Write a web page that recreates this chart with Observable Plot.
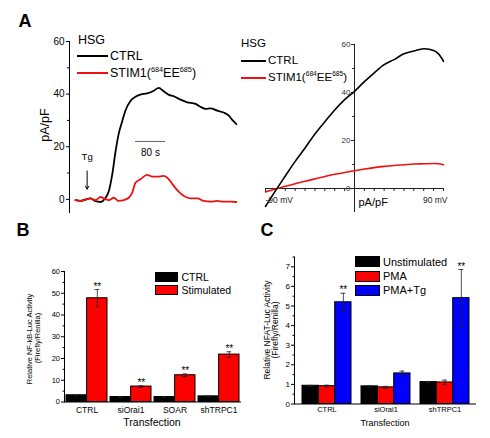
<!DOCTYPE html>
<html><head><meta charset="utf-8">
<script src="https://cdn.jsdelivr.net/npm/d3@7"></script>
<script src="https://cdn.jsdelivr.net/npm/@observablehq/plot@0.6"></script>
<style>
body{margin:0;background:#fff;}
#fig{position:relative;width:490px;height:438px;background:#fff;font-family:"Liberation Sans",Arial,sans-serif;color:#000;overflow:hidden;}
#fig svg{position:absolute;overflow:visible;}
.lbl{position:absolute;white-space:nowrap;line-height:1;}
.sup{font-size:0.58em;position:relative;top:-0.7em;}
.sw{position:absolute;}
</style></head><body><div id="fig"></div><script>
// ---------- Panel A left: current vs time ----------
const ctrlTime = [0,13,27,40,53,67,80,89,98,107,115,125,133,147,160,173,191,209,222,235,249,262,280,298,320,333,347,360,378,395,409,418,429];
const ctrlCurrent = [-0.3,-0.6,0,0.4,-0.7,-1,0.6,3.2,9.5,18.4,24.8,29.9,33.7,37.5,39,39.8,40.3,41.3,42.4,41.1,39.7,39.2,37.9,36.9,36.3,35.2,34.4,34.6,33.7,33,31.8,30.2,28.6];
const mutTime = [0,13,27,40,53,67,75,89,102,115,129,142,151,160,173,191,205,218,235,249,262,275,289,307,325,342,360,378,395,413,429];
const mutCurrent = [-0.3,-0.6,-0.2,0.4,-0.3,0.9,0.4,-0.3,0.6,-0.6,-0.3,0.6,2.5,6.3,7.6,9.3,8.6,8.6,8.9,7.6,5.1,2.9,1.3,0.4,0.4,-0.6,-0.9,-0.6,-0.9,-0.9,-1];
const tgTime = 31;            // Tg application (s)
const scaleBarSeconds = 80;   // scale bar length (s)
const aLeftTicks = [0,20,40,60];
const aLeftMinor = [10,30,50];
const legendNames = ["CTRL","STIM1(<span class='sup'>684</span>EE<span class='sup'>685</span>)"];
const legendColors = ["#000000","#ee1111"];

// ---------- Panel A right: I-V relation ----------
const ivVoltage = [-90,-80,-70,-60,-50,-40,-30,-20,-10,0,10,20,30,40,50,60,70,80,85,90];
const ivCtrl = [-7.5,-1,5.2,11.3,16.9,22.7,27.8,32.7,37,40.5,44.5,48.2,51.6,53.7,56.1,57.3,58.2,57.5,56.1,53];
const ivMut = [-1.4,-0.2,0.9,2,3,4,5,5.9,6.7,7.4,8.1,8.7,9.2,9.6,9.9,10.2,10.3,10.4,10.3,9.9];
const ivXTicks = [-90,-80,-70,-60,-50,-40,-30,-20,-10,10,20,30,40,50,60,70,80,90];
const ivYTicks = [0,20,40,60];
const ivYMinor = [10,30,50];

// ---------- Panel B ----------
const bGroups = ["CTRL","siOrai1","SOAR","shTRPC1"];
const bSeries = ["CTRL","Stimulated"];
const bValues = [[3.1,2.3,2.3,2.6],[47.7,7.1,12.3,21.8]];
const bErrors = [[0.2,0.1,0.1,0.1],[4,0.4,0.6,1.3]];
const bSig = [["","","",""],["**","**","**","**"]];
const bColors = ["#000000","#ff0000"];
const bTicks = [0,10,20,30,40,50,60];
const bMinor = [5,15,25,35,45,55];

// ---------- Panel C ----------
const cGroups = ["CTRL","siOrai1","shTRPC1"];
const cSeries = ["Unstimulated","PMA","PMA+Tg"];
const cValues = [[0.93,0.9,1.12],[0.91,0.85,1.1],[5.19,1.56,5.4]];
const cErrors = [[0.02,0.03,0.03],[0.05,0.05,0.12],[0.46,0.12,1.46]];
const cSig = [["","",""],["","",""],["**","","**"]];
const cColors = ["#000000","#ff0000","#0000ff"];
const cTicks = [0,1,2,3,4,5,6,7];
const cMinor = [0.5,1.5,2.5,3.5,4.5,5.5,6.5,7.5];

const FONT = "Liberation Sans";
const fig = document.getElementById("fig");
function place(svg, left, top){ svg.style.left = left+"px"; svg.style.top = top+"px"; fig.appendChild(svg); }
function label(html, cx, cy, size, opts={}){
  const d = document.createElement("div");
  d.className = "lbl"; d.innerHTML = html; d.style.fontSize = size+"px";
  if (opts.bold) d.style.fontWeight = "bold";
  const a = opts.anchor || "middle";
  const tx = a === "start" ? "0" : a === "end" ? "-100%" : "-50%";
  d.style.left = cx+"px"; d.style.top = cy+"px";
  d.style.transform = `translate(${tx},-50%)` + (opts.rotate ? ` rotate(${opts.rotate}deg)` : "");
  fig.appendChild(d);
}
function swatch(x, y, w, h, color, border){
  const d = document.createElement("div"); d.className = "sw";
  d.style.left = x+"px"; d.style.top = y+"px"; d.style.width = w+"px"; d.style.height = h+"px";
  d.style.background = color; if (border) d.style.border = "1px solid #000";
  d.style.boxSizing = "border-box";
  fig.appendChild(d);
}

// ===== A left =====
const ctrlData = ctrlTime.map((t,i)=>({t, v: ctrlCurrent[i]}));
const mutData = mutTime.map((t,i)=>({t, v: mutCurrent[i]}));
const aLeft = Plot.plot({
  width: 245, height: 220, marginLeft: 69, marginRight: 8, marginTop: 41, marginBottom: 8,
  x: {domain: [-16, 432], axis: null},
  y: {domain: [-5, 60], label: null},
  style: {fontFamily: FONT, fontSize: "10px", background: "none", color: "#000"},
  marks: [
    Plot.frame({anchor: "left"}),
    Plot.axisY({ticks: aLeftTicks, tickSize: 3, tickPadding: 2, fontSize: 10, label: null}),
    Plot.axisY({ticks: aLeftMinor, tickSize: 2, tickFormat: () => "", label: null}),
    Plot.line(ctrlData, {x: "t", y: "v", stroke: legendColors[0], strokeWidth: 1.8, curve: "monotone-x"}),
    Plot.line(mutData, {x: "t", y: "v", stroke: legendColors[1], strokeWidth: 1.8, curve: "monotone-x"}),
    Plot.ruleY([{t0: 160, y: 22}], {x1: "t0", x2: d => d.t0 + scaleBarSeconds, y: "y", stroke: "#666", strokeWidth: 1}),
    Plot.text([{t0: 160, y: 22}], {x: d => d.t0 + scaleBarSeconds/2, y: "y", text: () => scaleBarSeconds + " s", dy: 11.5, fontSize: 10}),
    Plot.arrow([{t: tgTime, top: 10.8, bottom: 3.9}], {x1: "t", x2: "t", y1: "top", y2: "bottom", stroke: "#000", strokeWidth: 1, headLength: 5}),
    Plot.text([{t: tgTime, y: 16}], {x: "t", y: "y", text: () => "Tg", fontSize: 9.5})
  ]
});
place(aLeft, 0, 0);

// ===== A right =====
const ivData = ivVoltage.map((v,i)=>({v, c: ivCtrl[i], m: ivMut[i]}));
const aRight = Plot.plot({
  width: 260, height: 220, marginLeft: 35, marginRight: 47, marginTop: 44, marginBottom: 8,
  x: {domain: [-90, 90], axis: null},
  y: {domain: [-10, 60], axis: null},
  style: {fontFamily: FONT, fontSize: "8px", background: "none", color: "#000"},
  marks: [
    Plot.ruleY([0], {stroke: "#222"}),
    Plot.ruleX([0], {stroke: "#222"}),
    Plot.ruleX(ivXTicks, {x: d => d, y1: 0, y2: 0, insetBottom: -3, stroke: "#222"}),
    Plot.ruleY(ivYTicks, {y: d => d, x1: 0, x2: 0, insetLeft: -3, stroke: "#222"}),
    Plot.ruleY(ivYMinor, {y: d => d, x1: 0, x2: 0, insetLeft: -2, stroke: "#222"}),
    Plot.text(ivYTicks, {x: 0, y: d => d, text: d => String(d), textAnchor: "end", dx: -4, fontSize: 8, fill: "#333"}),
    Plot.line(ivData, {x: "v", y: "m", stroke: legendColors[1], strokeWidth: 1.6, curve: "catmull-rom"}),
    Plot.line(ivData, {x: "v", y: "c", stroke: legendColors[0], strokeWidth: 1.6, curve: "catmull-rom"}),
    Plot.text([ivVoltage[0]], {x: d => d, y: 0, text: d => d + " mV", textAnchor: "start", dy: 12, fontSize: 8.5, fill: "#222"}),
    Plot.text([ivVoltage[ivVoltage.length-1]], {x: d => d, y: 0, text: d => d + " mV", textAnchor: "end", dx: 4, dy: 12, fontSize: 8.5, fill: "#222"}),
    Plot.text(["pA/pF"], {x: 0, y: 0, text: d => d, textAnchor: "start", dx: 4, dy: 14, fontSize: 11})
  ]
});
place(aRight, 230, 0);

// ===== bar panels =====
function barPanel(o){
  const {groups, series, values, errors, sig, colors, width, height, ml, mr, mt, mb, pi, po, yDomain, ticks, minor, tickFont, xFont, xPad, starFont} = o;
  const bw = Plot.scale({x: {type: "band", domain: groups, range: [ml, width - mr], paddingInner: pi, paddingOuter: po}}).bandwidth;
  const n = series.length, sw = bw / n, cap = 5;
  const data = series.map((s,i) => groups.map((g,j) => ({group: g, series: s, value: values[i][j], err: errors[i][j], sig: sig[i][j]})));
  const marks = [];
  series.forEach((s,i) => {
    marks.push(Plot.barY(data[i], {x: "group", y: "value", fill: colors[i], stroke: "#000", strokeWidth: 1, insetLeft: i*sw, insetRight: (n-1-i)*sw}));
  });
  series.forEach((s,i) => {
    const c = (i + 0.5) * sw;
    marks.push(Plot.ruleX(data[i], {x: "group", y1: d => d.value - d.err, y2: d => d.value + d.err, dx: c - bw/2, stroke: "#222", strokeWidth: 0.8}));
    marks.push(Plot.tickY(data[i], {x: "group", y: d => d.value + d.err, insetLeft: c - cap/2, insetRight: bw - c - cap/2, stroke: "#222", strokeWidth: 0.8}));
    marks.push(Plot.tickY(data[i], {x: "group", y: d => d.value - d.err, insetLeft: c - cap/2, insetRight: bw - c - cap/2, stroke: "#222", strokeWidth: 0.8}));
    marks.push(Plot.text(data[i].filter(d => d.sig), {x: "group", y: d => d.value + d.err, text: "sig", dx: c - bw/2, dy: 0, lineAnchor: "bottom", fontSize: starFont}));
  });
  marks.push(
    Plot.ruleY([0], {stroke: "#000"}),
    Plot.frame({anchor: "left"}),
    Plot.axisY({ticks, tickSize: 3, tickPadding: 1.5, fontSize: tickFont, label: null}),
    Plot.axisY({ticks: minor, tickSize: 1.5, tickFormat: () => "", label: null}),
    Plot.axisX({tickSize: 0, tickPadding: xPad, fontSize: xFont, label: null})
  );
  return Plot.plot({
    width, height, marginLeft: ml, marginRight: mr, marginTop: mt, marginBottom: mb,
    x: {type: "band", domain: groups, paddingInner: pi, paddingOuter: po, label: null},
    y: {domain: yDomain, label: null},
    style: {fontFamily: FONT, fontSize: "8px", background: "none", color: "#000"},
    marks
  });
}

const bPlot = barPanel({groups: bGroups, series: bSeries, values: bValues, errors: bErrors, sig: bSig, colors: bColors,
  width: 245, height: 218, ml: 64, mr: 4, mt: 51, mb: 36.5, pi: 0.07, po: 0.03, yDomain: [0,60],
  ticks: bTicks, minor: bMinor, tickFont: 7.5, xFont: 8.5, xPad: 5, starFont: 10});
place(bPlot, 0, 220);

const cPlot = barPanel({groups: cGroups, series: cSeries, values: cValues, errors: cErrors, sig: cSig, colors: cColors,
  width: 245, height: 218, ml: 49, mr: 14, mt: 36.5, mb: 34.5, pi: 0.17, po: 0.125, yDomain: [0,7.5],
  ticks: cTicks, minor: cMinor, tickFont: 8, xFont: 7.5, xPad: 3, starFont: 10});
place(cPlot, 245, 220);

// ===== text labels & legends =====
label("A", 25, 21, 18, {bold: true});
label("B", 23, 230, 18, {bold: true});
label("C", 267, 230, 18, {bold: true});

label("pA/pF", 45, 125, 12.5, {rotate: -90});
label("HSG", 78, 40, 12.5, {anchor: "start"});
[56, 73].forEach((y,i) => { swatch(77, y-1, 31, 2, legendColors[i]); label(legendNames[i], 110, y, 12.5, {anchor: "start"}); });

label("HSG", 241, 43.5, 11.5, {anchor: "start"});
[61, 78].forEach((y,i) => { swatch(241, y-0.75, 25, 1.5, legendColors[i]); label(legendNames[i], 268, y, 11.5, {anchor: "start"}); });

label("Relative NF-kB-Luc Activity", 30, 339, 7.5, {rotate: -90});
label("(Firefly/Renilla)", 37.5, 338, 7.5, {rotate: -90});
label("Transfection", 152, 421.5, 10.5);
[272, 285].forEach((y,i) => { swatch(155, y, 23, 10, bColors[i], true); label(bSeries[i], 181.5, y+5, 10.5, {anchor: "start"}); });

label("Relative NFAT-Luc Activity", 266.5, 330, 8.5, {rotate: -90});
label("(Firefly/Renilla)", 275, 330, 8.5, {rotate: -90});
label("Transfection", 385, 423, 9);
[256, 270.5, 284.5].forEach((y,i) => { swatch(355, y, 25, 11, cColors[i], true); label(cSeries[i], 383, y+5.5, 11, {anchor: "start"}); });
</script></body></html>
